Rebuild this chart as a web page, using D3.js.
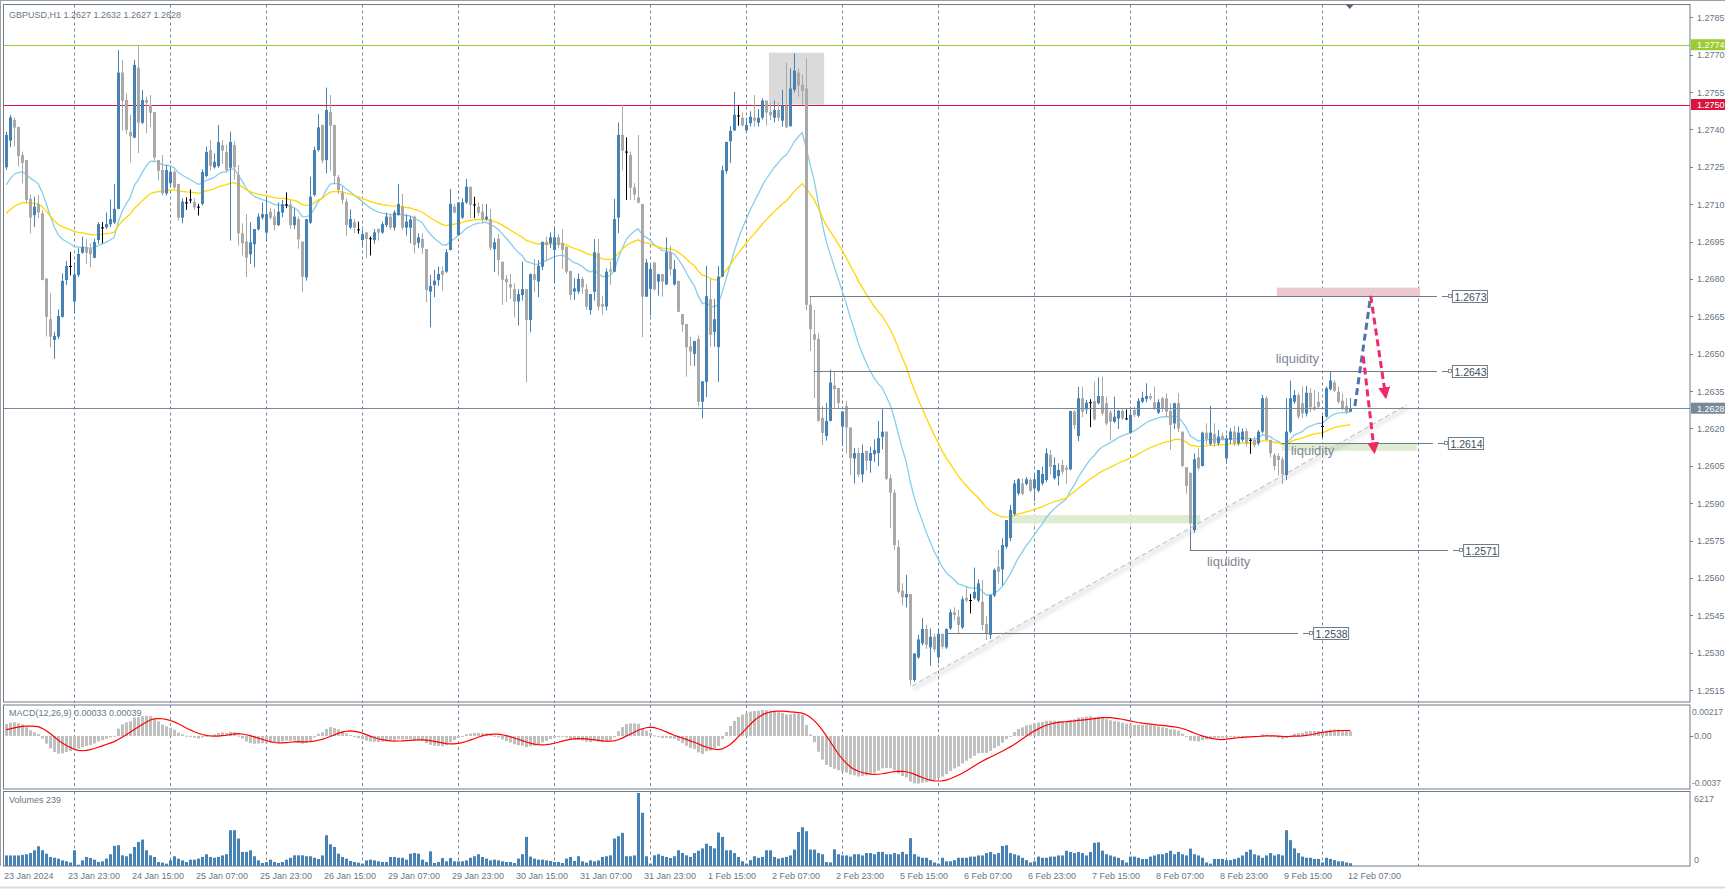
<!DOCTYPE html>
<html><head><meta charset="utf-8">
<script src="https://cdn.jsdelivr.net/npm/d3@7"></script>
<style>
body{margin:0;background:#fff;overflow:hidden}
svg{display:block}
text{font-family:"Liberation Sans",Arial,sans-serif}
</style></head>
<body><svg id="c" width="1725" height="889"></svg>
<script>
// ---------------- DATA (GBPUSD H1, bar 0 = 23 Jan 2024 07:00) ----------------
const opens = [1.27248,1.27355,1.27438,1.2741,1.27297,1.27277,1.27121,1.27056,1.27101,1.27063,
1.26802,1.26638,1.26555,1.26568,1.26648,1.26796,1.26852,1.26709,1.26816,1.26905,
1.26927,1.2692,1.26885,1.26956,1.27007,1.27007,1.27019,1.27026,1.27081,1.27628,
1.27518,1.2739,1.27367,1.27648,1.27427,1.27518,1.27498,1.2747,1.27277,1.27237,
1.27143,1.27184,1.2723,1.27181,1.27046,1.27107,1.27119,1.27109,1.2709,1.27101,
1.27213,1.27317,1.27248,1.27253,1.27337,1.27309,1.27246,1.27337,1.27217,1.26983,
1.2695,1.26899,1.26939,1.26999,1.27046,1.26986,1.2707,1.2705,1.27016,1.27066,
1.27099,1.27099,1.27016,1.2704,1.2695,1.26806,1.27026,1.27137,1.27317,1.27418,
1.27277,1.2747,1.27418,1.27208,1.27146,1.2711,1.27006,1.27027,1.26999,1.26956,
1.26987,1.26963,1.26956,1.27,1.26986,1.27016,1.2705,1.27006,1.27056,1.2709,
1.27006,1.27006,1.2705,1.26945,1.2696,1.2692,1.26749,1.26775,1.26795,1.26832,
1.26829,1.26916,1.2709,1.26976,1.27046,1.27107,1.2717,1.27099,1.2709,1.2707,
1.27039,1.2704,1.26919,1.2696,1.26869,1.268,1.26779,1.26759,1.26709,1.26735,
1.26759,1.26635,1.26819,1.26789,1.26849,1.26949,1.26943,1.26916,1.26967,1.26945,
1.26929,1.26832,1.26749,1.26749,1.268,1.26759,1.26675,1.26749,1.26903,1.26699,
1.26689,1.26838,1.26829,1.27046,1.27378,1.27311,1.27297,1.27167,1.27127,1.27101,
1.26729,1.2676,1.26866,1.26789,1.26819,1.26778,1.26907,1.26778,1.26792,1.26659,
1.26619,1.2653,1.26499,1.26559,1.26307,1.26387,1.26719,1.26587,1.26526,1.26809,
1.27233,1.27353,1.27396,1.27456,1.27447,1.27396,1.27425,1.27447,1.27427,1.27447,
1.27516,1.2747,1.27447,1.27478,1.27435,1.27494,1.27413,1.27559,1.27628,1.27579,
1.27564,1.26696,1.26578,1.26559,1.26242,1.2617,1.2623,1.26372,1.26362,1.26207,
1.2629,1.26204,1.26079,1.26101,1.26015,1.2611,1.2607,1.26096,1.26101,1.26166,
1.26187,1.26,1.25942,1.25724,1.25549,1.25522,1.25535,1.2519,1.25281,1.25337,
1.25395,1.25321,1.25364,1.25281,1.25375,1.25321,1.25397,1.25462,1.25444,1.25401,
1.2552,1.25511,1.25518,1.25509,1.25504,1.25415,1.25371,1.25529,1.25645,1.25634,
1.25725,1.2576,1.25856,1.25939,1.25979,1.25977,1.25993,1.25959,1.2595,1.25979,
1.25993,1.26093,1.26,1.26009,1.26053,1.26042,1.26036,1.26267,1.26169,1.26321,
1.26276,1.26305,1.2631,1.26301,1.2633,1.26301,1.26264,1.26227,1.2624,1.26271,
1.2624,1.26183,1.26274,1.26251,1.26307,1.26318,1.2633,1.26305,1.26263,1.26321,
1.26321,1.2627,1.2622,1.26301,1.26187,1.26044,1.26022,1.25792,1.26084,1.26049,
1.26183,1.26137,1.26177,1.2614,1.2617,1.2608,1.26154,1.26187,1.2614,1.26154,
1.26189,1.26154,1.26154,1.2614,1.26187,1.26321,1.26154,1.26093,1.26089,1.26076,
1.26013,1.26187,1.26307,1.26334,1.26301,1.2626,1.26343,1.26287,1.26307,1.2621,
1.26247,1.26357,1.26384,1.26347,1.26311,1.2629,1.26267];
const highs = [1.2739,1.27458,1.27448,1.2741,1.27311,1.27277,1.27139,1.2713,1.27137,1.27076,
1.26802,1.26742,1.26588,1.26678,1.26822,1.26872,1.26909,1.26862,1.26923,1.26969,
1.26959,1.26943,1.26961,1.27028,1.27028,1.27067,1.27119,1.27181,1.27719,1.27679,
1.27545,1.27458,1.27679,1.27739,1.27558,1.27531,1.27538,1.2747,1.27277,1.27297,
1.27257,1.2725,1.27237,1.27181,1.27123,1.27127,1.27159,1.27123,1.27101,1.2724,
1.27331,1.27357,1.27304,1.27418,1.27357,1.27337,1.27391,1.27351,1.27257,1.27023,
1.2706,1.27027,1.27,1.27063,1.27107,1.2713,1.27083,1.27081,1.27107,1.27117,
1.27147,1.27117,1.27083,1.2705,1.2695,1.2704,1.2721,1.27331,1.27461,1.27418,
1.27568,1.27538,1.27418,1.27217,1.2717,1.27123,1.27079,1.2704,1.2703,1.26996,
1.26987,1.2697,1.27,1.27003,1.2703,1.27066,1.27063,1.27076,1.27181,1.27141,
1.27059,1.27052,1.27054,1.26983,1.26983,1.2692,1.26816,1.26836,1.26849,1.26849,
1.2692,1.27161,1.27101,1.27107,1.27123,1.27201,1.2717,1.2713,1.27107,1.27101,
1.27101,1.27081,1.26963,1.2698,1.26869,1.26816,1.26819,1.26782,1.26759,1.26869,
1.26759,1.26822,1.2688,1.26876,1.26949,1.2697,1.26987,1.2701,1.2698,1.27,
1.26929,1.26832,1.26802,1.26822,1.26809,1.26779,1.26739,1.2696,1.2696,1.26733,
1.26842,1.26869,1.27121,1.27428,1.27498,1.27368,1.27311,1.27184,1.27378,1.27101,
1.2688,1.2686,1.26866,1.26819,1.26819,1.26967,1.26933,1.26876,1.26792,1.26659,
1.26619,1.26568,1.26551,1.26573,1.26389,1.26852,1.26801,1.26719,1.26851,1.27255,
1.2735,1.27413,1.2755,1.27495,1.27468,1.27447,1.27473,1.27538,1.27482,1.27525,
1.27516,1.27507,1.27516,1.27507,1.27559,1.27667,1.27645,1.27705,1.27645,1.27619,
1.27686,1.26731,1.26676,1.26581,1.2629,1.26302,1.26436,1.26427,1.26362,1.26268,
1.2631,1.26204,1.26122,1.26122,1.26135,1.2611,1.26127,1.26156,1.2623,1.26281,
1.26187,1.26015,1.25955,1.25753,1.25578,1.25612,1.25535,1.25297,1.25371,1.25438,
1.25411,1.25397,1.25377,1.25397,1.25377,1.25397,1.25474,1.25482,1.25471,1.25525,
1.25565,1.25535,1.25641,1.25594,1.25591,1.25447,1.25531,1.25638,1.25712,1.25759,
1.25832,1.25893,1.25993,1.26,1.26,1.26004,1.26,1.2602,1.26033,1.26046,
1.2612,1.26113,1.26084,1.2606,1.26073,1.26053,1.2627,1.26274,1.26367,1.26367,
1.26314,1.26317,1.26388,1.26405,1.26408,1.26327,1.26274,1.26327,1.26274,1.26276,
1.26276,1.26281,1.26287,1.26321,1.26347,1.26381,1.26341,1.26368,1.26317,1.26327,
1.26341,1.26301,1.26303,1.26341,1.26187,1.26044,1.26022,1.261,1.2612,1.26187,
1.2622,1.2629,1.2622,1.26193,1.26183,1.26174,1.262,1.2621,1.26207,1.262,
1.262,1.2616,1.26167,1.26193,1.26334,1.2633,1.26154,1.261,1.261,1.26086,
1.26321,1.26392,1.26354,1.26343,1.26368,1.2637,1.26361,1.26354,1.26347,1.2625,
1.26368,1.26428,1.26394,1.26368,1.26341,1.26321,1.26322];
const lows = [1.2724,1.27331,1.27333,1.27253,1.27186,1.27106,1.26985,1.2701,1.27046,1.26796,
1.26571,1.26528,1.26481,1.26561,1.26646,1.26778,1.26816,1.26664,1.26809,1.26903,
1.26862,1.26849,1.26885,1.26943,1.26945,1.27003,1.2701,1.27023,1.27081,1.27398,
1.27384,1.2727,1.27367,1.27307,1.27424,1.27387,1.27411,1.27277,1.27197,1.27137,
1.27137,1.2717,1.27163,1.27036,1.27026,1.27079,1.27106,1.27079,1.27056,1.27097,
1.2721,1.27237,1.27245,1.27248,1.27264,1.2723,1.26956,1.272,1.26936,1.26896,
1.26809,1.26862,1.26849,1.26996,1.2704,1.26953,1.2704,1.26996,1.27014,1.2705,
1.27086,1.27003,1.27003,1.26923,1.26749,1.26795,1.27023,1.27133,1.27313,1.27266,
1.27226,1.27237,1.27184,1.27143,1.27103,1.26976,1.27003,1.26986,1.26983,1.26929,
1.26885,1.26896,1.26943,1.26956,1.26983,1.2701,1.26999,1.26996,1.27056,1.26999,
1.26976,1.26945,1.26905,1.26925,1.26903,1.26709,1.26608,1.26729,1.26775,1.26755,
1.26826,1.26916,1.27066,1.26976,1.27043,1.27103,1.27047,1.27046,1.27056,1.27026,
1.27036,1.26916,1.26829,1.26816,1.26698,1.26709,1.26722,1.26648,1.26615,1.26715,
1.26387,1.26588,1.26749,1.26729,1.26838,1.26876,1.26925,1.26785,1.26925,1.26842,
1.26822,1.26718,1.26718,1.26742,1.26742,1.26678,1.26658,1.26715,1.26675,1.26659,
1.26675,1.26779,1.26829,1.26986,1.27237,1.27119,1.27119,1.27119,1.27106,1.26568,
1.26729,1.26655,1.26755,1.26735,1.26731,1.26778,1.26816,1.26775,1.26668,1.2659,
1.2641,1.26453,1.26453,1.2629,1.26242,1.26328,1.2653,1.2653,1.26389,1.26809,
1.27224,1.27267,1.27396,1.27417,1.27413,1.27392,1.27413,1.27413,1.27413,1.27442,
1.27418,1.27439,1.2743,1.27435,1.27413,1.27408,1.27413,1.2755,1.27533,1.27499,
1.26676,1.26513,1.26324,1.2623,1.26135,1.26153,1.2623,1.26281,1.26281,1.26132,
1.26101,1.26015,1.25981,1.26007,1.25985,1.26033,1.26024,1.26067,1.2605,1.26118,
1.25995,1.25801,1.25715,1.25539,1.25492,1.25484,1.2517,1.25184,1.25277,1.25331,
1.25317,1.2525,1.25304,1.25259,1.25317,1.25317,1.25393,1.25431,1.25377,1.25397,
1.25504,1.2546,1.25514,1.25504,1.25391,1.25353,1.25357,1.25525,1.25578,1.25571,
1.25719,1.25749,1.25852,1.25933,1.25933,1.25973,1.25946,1.2591,1.25946,1.25973,
1.25986,1.26017,1.25996,1.25973,1.26017,1.25979,1.26033,1.262,1.26151,1.26247,
1.2626,1.26207,1.26234,1.26298,1.26254,1.26214,1.26153,1.26223,1.262,1.26236,
1.26236,1.2618,1.26247,1.26247,1.26303,1.26307,1.26314,1.26276,1.2626,1.26267,
1.26247,1.26116,1.262,1.26187,1.26046,1.2594,1.25785,1.25783,1.26033,1.26049,
1.26137,1.26133,1.26129,1.26133,1.26154,1.2606,1.2614,1.26133,1.26133,1.26147,
1.26129,1.261,1.26126,1.26133,1.26183,1.26154,1.26086,1.26033,1.26013,1.25979,
1.25995,1.26183,1.26301,1.2624,1.26244,1.2625,1.26267,1.26274,1.26281,1.26167,
1.26244,1.26354,1.26347,1.26301,1.26274,1.2626,1.26268];
const closes = [1.27378,1.27448,1.27407,1.27293,1.27266,1.27117,1.27046,1.2709,1.27066,1.26796,
1.26648,1.26568,1.26571,1.26651,1.26792,1.26852,1.26852,1.26818,1.269,1.26927,
1.26905,1.26899,1.26948,1.2702,1.27007,1.2702,1.2704,1.27081,1.27628,1.27515,
1.27398,1.27373,1.27659,1.27427,1.27518,1.27507,1.27467,1.27287,1.27234,1.27143,
1.27237,1.2723,1.27167,1.27046,1.2711,1.27107,1.27119,1.27087,1.2709,1.27229,
1.27309,1.27253,1.2727,1.27349,1.27315,1.27237,1.2735,1.27248,1.26983,1.26943,
1.26885,1.26947,1.27,1.2705,1.2706,1.2706,1.27046,1.27016,1.2707,1.27099,
1.27099,1.27016,1.2705,1.26959,1.26809,1.2704,1.2713,1.27317,1.27408,1.27275,
1.27478,1.27415,1.27213,1.27157,1.27117,1.27016,1.2704,1.27006,1.26999,1.2698,
1.2696,1.26963,1.26987,1.26986,1.2702,1.2705,1.27006,1.27067,1.27101,1.27006,
1.2703,1.27039,1.26936,1.26967,1.26925,1.26755,1.26771,1.26793,1.2682,1.26816,
1.26907,1.27101,1.27066,1.27107,1.27107,1.2717,1.27097,1.27099,1.27066,1.27039,
1.2705,1.26925,1.26947,1.26876,1.26796,1.26786,1.26766,1.26709,1.26739,1.26759,
1.26635,1.26819,1.26796,1.26853,1.26949,1.26936,1.26967,1.26967,1.26936,1.26916,
1.26829,1.26735,1.26762,1.268,1.26766,1.26689,1.26739,1.26907,1.26689,1.26689,
1.26829,1.26829,1.2704,1.27378,1.27315,1.27311,1.27166,1.27139,1.27106,1.26729,
1.26866,1.2684,1.26758,1.26819,1.26789,1.26907,1.26838,1.2684,1.26668,1.26616,
1.26526,1.26508,1.26551,1.26307,1.26389,1.26731,1.26576,1.26638,1.26809,1.27236,
1.2735,1.27394,1.27459,1.27456,1.27417,1.27418,1.27451,1.27435,1.27447,1.27516,
1.27468,1.27456,1.27478,1.27447,1.27494,1.27408,1.27564,1.27636,1.27576,1.27555,
1.26696,1.26598,1.26556,1.2623,1.26182,1.2623,1.26384,1.26358,1.26302,1.26268,
1.26204,1.26081,1.26101,1.26015,1.26101,1.2607,1.26101,1.26113,1.26161,1.26187,
1.25998,1.25942,1.25732,1.25544,1.25522,1.25535,1.2519,1.25297,1.25353,1.25395,
1.25331,1.25364,1.25313,1.25375,1.25324,1.25395,1.25462,1.25451,1.25411,1.25514,
1.25509,1.25511,1.25544,1.25578,1.25411,1.25377,1.25531,1.25632,1.25625,1.25732,
1.25832,1.25873,1.25979,1.25996,1.25937,1.25996,1.2595,1.25996,1.26033,1.26017,
1.261,1.26046,1.26053,1.26033,1.26026,1.26033,1.2627,1.26214,1.26321,1.26267,
1.26303,1.26305,1.26236,1.2633,1.2626,1.2622,1.26227,1.26247,1.26271,1.2624,
1.2624,1.26254,1.26254,1.26311,1.26323,1.2633,1.26321,1.26281,1.26305,1.26281,
1.26267,1.26214,1.26301,1.262,1.26049,1.25969,1.25819,1.26076,1.2604,1.26183,
1.26156,1.26183,1.2614,1.26167,1.26156,1.2616,1.26187,1.2614,1.26183,1.26187,
1.2614,1.26154,1.26133,1.26187,1.26321,1.26154,1.261,1.26049,1.26073,1.26017,
1.26187,1.26321,1.26334,1.26247,1.2626,1.26343,1.26285,1.26276,1.26287,1.2621,
1.26361,1.26392,1.26351,1.26307,1.26281,1.26267,1.26281];
const volumes = [900,900,900,900,950,1000,1100,1340,1680,1340,
1050,770,700,630,480,400,300,1340,110,480,
770,680,540,340,400,630,1000,1710,1770,910,
830,1050,1620,2050,2250,1340,910,770,340,285,
200,480,830,630,480,340,540,540,630,770,
1000,770,700,770,900,1000,3050,3050,2340,1200,
1200,1340,830,480,260,340,540,340,260,340,
540,700,910,910,910,830,830,700,600,900,
2620,1850,1620,1050,770,630,430,340,285,200,
480,540,480,400,340,340,770,770,700,700,
540,1050,1110,1050,540,340,1250,260,340,680,
400,680,400,400,400,480,700,830,1000,770,
630,480,540,480,400,340,340,260,630,1000,
2480,800,630,540,540,480,430,340,340,260,
630,770,430,830,400,285,480,400,480,770,
830,910,2340,2540,2820,830,830,900,6217,4530,
830,200,910,1000,860,770,680,830,1340,1110,
910,770,1100,1300,1500,1900,1700,1500,2850,2480,
1340,1340,1100,770,400,200,500,830,700,770,
1340,1340,770,630,700,770,900,1400,2900,3300,
2960,1400,1400,1100,1000,340,300,1420,1000,900,
900,800,1000,1000,900,1100,1100,1000,1200,1200,
1000,1000,1100,1000,1200,1000,2370,1000,800,700,
700,500,300,200,700,400,400,500,700,700,
700,800,800,900,900,1100,1200,1000,1100,1700,
1770,1100,1000,900,700,500,300,400,800,700,
700,800,800,900,900,1300,1200,1100,1200,1100,
900,1200,1970,2020,1300,1000,900,800,700,500,
300,800,800,700,600,600,800,900,1000,1000,
1100,1300,1000,1200,1000,900,1480,1000,900,700,
300,200,600,600,600,500,500,600,700,900,
1200,1400,1000,900,700,900,1100,900,1000,900,
3050,2200,1500,1100,800,700,700,600,600,300,
700,600,500,400,400,300,239];

const timeLabels = ["23 Jan 2024","23 Jan 23:00","24 Jan 15:00","25 Jan 07:00","25 Jan 23:00","26 Jan 15:00","29 Jan 07:00","29 Jan 23:00","30 Jan 15:00","31 Jan 07:00","31 Jan 23:00","1 Feb 15:00","2 Feb 07:00","2 Feb 23:00","5 Feb 15:00","6 Feb 07:00","6 Feb 23:00","7 Feb 15:00","8 Feb 07:00","8 Feb 23:00","9 Feb 15:00","12 Feb 07:00"];
const timeLabelBars = [0,16,32,48,64,80,96,112,128,144,160,176,192,208,224,240,256,272,288,304,320,336];
const daySeparatorBars = [17,41,65,89,113,137,161,185,209,233,257,281,305,329,353];
const priceTicks = [1.2785,1.2770,1.2755,1.2740,1.2725,1.2710,1.2695,1.2680,1.2665,1.2650,1.2635,1.2620,1.2605,1.2590,1.2575,1.2560,1.2545,1.2530,1.2515];
const priceDomain = [1.2515, 1.2785];
const macdDomain = [-0.0037, 0.00217];
const volumeMax = 6217;

// indicator settings and start values read at the left edge of the chart
const maPeriods = [21, 50];
const maStart = [1.27157, 1.2705];
const macdPeriods = [12, 26, 9];
const macdStart = [1.2722, 1.2714, 0.0004];

// horizontal marked levels (price, from bar, to bar)
const hLines = [1.2774, 1.2750];
const levelPrices = [1.2673, 1.2643, 1.2614, 1.2571, 1.2538];
const levelFrom = [201, 202, 319, 296, 235];
const levelTo = [357.8, 357.8, 356.8, 360.6, 323.1];
// zones: [fromBar, toBar, lowPrice, highPrice]
const zoneFrom = [190.8, 317.8, 319, 251.3];
const zoneTo = [204.6, 353.6, 352.8, 298.6];
const zoneLow = [1.2750, 1.2673, 1.2611, 1.25819];
const zoneHigh = [1.27708, 1.26765, 1.2614, 1.25852];
// trend line
const trendBars = [226.6, 350.3];
const trendPrices = [1.25166, 1.26294];
// "liquidity" notes
const noteBars = [317.5, 321.3, 300.3];
const notePrices = [1.26461, 1.26093, 1.25648];
// projected path arrows: [fromBar, fromPrice, toBar, toPrice]
const blueArrow = [337.3, 1.2629, 341.25, 1.26732];
const redArrows = [[341.25, 1.26732, 345.0, 1.26327], [339.4, 1.26488, 342.15, 1.26106]];

// ---------------- DRAWING ----------------
const svg = d3.select("#c");
const C = {blue:"#4682b4", gray:"#a9a9a9", grid:"#77889a", border:"#6e7b8b", txt:"#6a7684"};
const L = {left:3.5, right:1690, mainTop:4.5, mainBot:702, macdTop:705, macdBot:789, volTop:791.5, volBot:866};

const x = d3.scaleLinear().domain([0, 336]).range([5.7, 1349.7]);
const y = d3.scaleLinear().domain(priceDomain).range([690, 17.3]);
const ym = d3.scaleLinear().domain(macdDomain).range([787, 706]);
const yv = d3.scaleLinear().domain([0, volumeMax]).range([866, 793]);

const defs = svg.append("defs");
[["cm", L.mainTop, L.mainBot], ["cd", L.macdTop, L.macdBot], ["cv", L.volTop, L.volBot]].forEach(([id, t, b]) => {
  defs.append("clipPath").attr("id", id).append("rect").attr("x", L.left).attr("y", t).attr("width", L.right - L.left).attr("height", b - t);
});
const blur = defs.append("filter").attr("id","sh").attr("x","-10%").attr("y","-10%").attr("width","120%").attr("height","140%");
blur.append("feGaussianBlur").attr("stdDeviation", 2);
defs.append("marker").attr("id","ar").attr("viewBox","0 0 10 10").attr("refX",8).attr("refY",5)
  .attr("markerWidth",4).attr("markerHeight",4).attr("orient","auto")
  .append("path").attr("d","M0,0 L10,5 L0,10 Z").attr("fill","#ee2a68");

svg.append("rect").attr("width",1725).attr("height",889).attr("fill","#fff");
svg.append("line").attr("x1",0).attr("x2",1725).attr("y1",0.5).attr("y2",0.5).attr("stroke","#a0a0a0");
svg.append("line").attr("x1",0).attr("x2",1725).attr("y1",887.5).attr("y2",887.5).attr("stroke","#dcdcdc").attr("stroke-width",2);

const gMain = svg.append("g").attr("clip-path","url(#cm)");
const gMacd = svg.append("g").attr("clip-path","url(#cd)");
const gVol = svg.append("g").attr("clip-path","url(#cv)");
const px = i => Math.round(x(i));

// day separators
[[gMain,L.mainTop,L.mainBot],[gMacd,L.macdTop,L.macdBot],[gVol,L.volTop,L.volBot]].forEach(([g,t,b])=>{
  g.selectAll(null).data(daySeparatorBars).join("line")
    .attr("x1",d=>px(d)+0.5).attr("x2",d=>px(d)+0.5).attr("y1",t).attr("y2",b)
    .attr("stroke",C.grid).attr("stroke-dasharray","3,3");
});

// zones
const zoneCols = ["#dadada","#ecc9ce","#deecd1","#deecd1"];
gMain.selectAll(null).data(zoneFrom).join("rect")
  .attr("x",(d,i)=>x(d)).attr("width",(d,i)=>x(zoneTo[i])-x(d))
  .attr("y",(d,i)=>y(zoneHigh[i])).attr("height",(d,i)=>Math.max(1,y(zoneLow[i])-y(zoneHigh[i])))
  .attr("fill",(d,i)=>zoneCols[i]);

// horizontal lines
const hCols = ["#9acd32","#dc143c"];
gMain.selectAll(null).data(hLines).join("line")
  .attr("x1",L.left).attr("x2",L.right).attr("y1",d=>Math.round(y(d))+0.5).attr("y2",d=>Math.round(y(d))+0.5)
  .attr("stroke",(d,i)=>hCols[i]);

// moving averages
function ema(vals, period, start){ const k = 2/(period+1); let e = start; return vals.map(v => (e = e + k*(v - e))); }
const maCols = ["#87ceeb","#ffd700"];
maPeriods.forEach((p, j) => {
  const vals = ema(closes, p, maStart[j]);
  gMain.append("path").datum(vals)
    .attr("d", d3.line().x((d,i)=>x(i)+0.5).y(d=>y(d)))
    .attr("fill","none").attr("stroke",maCols[j]).attr("stroke-width",1.3);
});

// candles
const idx = d3.range(closes.length);
const colOf = i => closes[i] > opens[i] ? C.blue : (closes[i] < opens[i] ? C.gray : "#000");
const cg = gMain.append("g");
cg.selectAll(null).data(idx).join("line")
  .attr("x1",i=>px(i)+0.5).attr("x2",i=>px(i)+0.5)
  .attr("y1",i=>y(highs[i])).attr("y2",i=>y(lows[i])+0.5)
  .attr("stroke",colOf);
cg.selectAll(null).data(idx).join("rect")
  .attr("x",i=>px(i)-1).attr("width",3)
  .attr("y",i=>y(Math.max(opens[i],closes[i])))
  .attr("height",i=>Math.max(1, y(Math.min(opens[i],closes[i])) - y(Math.max(opens[i],closes[i]))))
  .attr("fill",colOf);

// trend line with soft shadow
gMain.append("line").attr("x1",x(trendBars[0])+1).attr("y1",y(trendPrices[0])+3).attr("x2",x(trendBars[1])+1).attr("y2",y(trendPrices[1])+3)
  .attr("stroke","#000").attr("stroke-opacity",0.18).attr("stroke-width",2).attr("filter","url(#sh)");
gMain.append("line").attr("x1",x(trendBars[0])).attr("y1",y(trendPrices[0])).attr("x2",x(trendBars[1])).attr("y2",y(trendPrices[1]))
  .attr("stroke","#b8b8b8").attr("stroke-dasharray","5,3");

// level lines with price labels
levelPrices.forEach((p, i) => {
  const yy = Math.round(y(p)) + 0.5, x0 = x(levelFrom[i]), x1 = x(levelTo[i]);
  gMain.append("line").attr("x1",x0).attr("x2",x1).attr("y1",yy).attr("y2",yy).attr("stroke",C.border);
  gMain.append("line").attr("x1",x1+5).attr("x2",x1+12).attr("y1",yy).attr("y2",yy).attr("stroke",C.border);
  gMain.append("rect").attr("x",x1+11.5).attr("y",yy-2).attr("width",3).attr("height",3).attr("fill","#fff").attr("stroke",C.border).attr("stroke-width",0.8);
  gMain.append("rect").attr("x",x1+15.5).attr("y",yy-6).attr("width",35).attr("height",12).attr("fill","#fff").attr("stroke",C.border);
  gMain.append("text").attr("x",x1+17.5).attr("y",yy+4).attr("font-size","10.5px").attr("fill","#3f4d5c").text(p.toFixed(4));
});
// connector of the 1.2571 level to the swing low candle
gMain.append("line").attr("x1",px(levelFrom[3])+0.5).attr("x2",px(levelFrom[3])+0.5)
  .attr("y1",y(lows[levelFrom[3]])).attr("y2",y(levelPrices[3])).attr("stroke",C.border);

// notes
gMain.selectAll(null).data(noteBars).join("text")
  .attr("x",d=>x(d)).attr("y",(d,i)=>y(notePrices[i]))
  .attr("font-size","13px").attr("fill","#7f8793").text("liquidity");

// arrows
gMain.append("line").attr("x1",x(blueArrow[0])).attr("y1",y(blueArrow[1])).attr("x2",x(blueArrow[2])).attr("y2",y(blueArrow[3]))
  .attr("stroke","#4f74ad").attr("stroke-width",3).attr("stroke-dasharray","7,4");
redArrows.forEach(a => {
  gMain.append("line").attr("x1",x(a[0])).attr("y1",y(a[1])).attr("x2",x(a[2])).attr("y2",y(a[3]))
    .attr("stroke","#ee2a68").attr("stroke-width",3).attr("stroke-dasharray","7,4").attr("marker-end","url(#ar)");
});

// current bid line
const last = closes[closes.length-1];
gMain.append("line").attr("x1",L.left).attr("x2",L.right).attr("y1",Math.round(y(last))+0.5).attr("y2",Math.round(y(last))+0.5).attr("stroke","#778899");

// MACD
const e12 = ema(closes, macdPeriods[0], macdStart[0]);
const e26 = ema(closes, macdPeriods[1], macdStart[1]);
const macd = e12.map((v,i) => v - e26[i]);
const signal = macd.map((v,i) => { let s = 0; for (let j = i - macdPeriods[2] + 1; j <= i; j++) s += j >= 0 ? macd[j] : macdStart[2]; return s / macdPeriods[2]; });
gMacd.selectAll(null).data(idx).join("rect")
  .attr("x",i=>px(i)-1).attr("width",3)
  .attr("y",i=>Math.min(ym(0), ym(macd[i]))).attr("height",i=>Math.max(1, Math.abs(ym(macd[i]) - ym(0))))
  .attr("fill","#c0c0c0");
gMacd.append("path").datum(signal).attr("d", d3.line().x((d,i)=>x(i)+0.5).y(d=>ym(d)))
  .attr("fill","none").attr("stroke","#ff0000").attr("stroke-width",1.2);

// volumes
gVol.selectAll(null).data(idx).join("rect")
  .attr("x",i=>px(i)-1).attr("width",3)
  .attr("y",i=>yv(volumes[i])).attr("height",i=>yv(0)-yv(volumes[i]))
  .attr("fill",C.blue);

// panel borders
[[L.mainTop,L.mainBot],[L.macdTop,L.macdBot],[L.volTop,L.volBot]].forEach(([t,b])=>{
  svg.append("rect").attr("x",L.left).attr("y",t).attr("width",L.right-L.left).attr("height",b-t)
    .attr("fill","none").attr("stroke",C.border);
});
svg.append("line").attr("x1",0.5).attr("x2",0.5).attr("y1",0).attr("y2",L.volBot).attr("stroke","#a0a0a0");

// chart shift marker
svg.append("path").attr("d",`M${x(336)-4},4.5 L${x(336)+4},4.5 L${x(336)},9 Z`).attr("fill","#5a6470");

// price axis
const ax = svg.append("g");
ax.selectAll(null).data(priceTicks).join("line")
  .attr("x1",L.right).attr("x2",L.right+3).attr("y1",d=>Math.round(y(d))+0.5).attr("y2",d=>Math.round(y(d))+0.5).attr("stroke",C.border);
ax.selectAll(null).data(priceTicks).join("text")
  .attr("x",1697).attr("y",d=>y(d)+3.5).attr("font-size","9px").attr("fill",C.txt).text(d=>d.toFixed(4));
// highlighted price tags
const tagPrices = [hLines[0], hLines[1], last];
const tagCols = ["#9acd32","#dc143c","#778899"];
tagPrices.forEach((p,i)=>{
  const yy = y(p);
  ax.append("rect").attr("x",1691).attr("y",yy-5.5).attr("width",34).attr("height",11).attr("fill",tagCols[i]);
  ax.append("text").attr("x",1697).attr("y",yy+3.5).attr("font-size","9px").attr("fill","#fff").text(p.toFixed(4));
});
// macd axis
ax.append("text").attr("x",1692).attr("y",715).attr("font-size","8.6px").attr("fill",C.txt).text(macdDomain[1].toFixed(5));
ax.append("line").attr("x1",L.right).attr("x2",L.right+3).attr("y1",Math.round(ym(0))+0.5).attr("y2",Math.round(ym(0))+0.5).attr("stroke",C.border);
ax.append("text").attr("x",1694).attr("y",ym(0)+3.5).attr("font-size","9px").attr("fill",C.txt).text("0.00");
ax.append("text").attr("x",1692).attr("y",786).attr("font-size","8.6px").attr("fill",C.txt).text(macdDomain[0].toFixed(4));
// volume axis
ax.append("text").attr("x",1694).attr("y",801.5).attr("font-size","9px").attr("fill",C.txt).text(volumeMax);
ax.append("text").attr("x",1694).attr("y",862.5).attr("font-size","9px").attr("fill",C.txt).text("0");

// time axis
ax.selectAll(null).data(timeLabelBars).join("text")
  .attr("x",d=>x(d)-1.8).attr("y",879).attr("font-size","9px").attr("fill",C.txt).text((d,i)=>timeLabels[i]);

// titles
const fmt = v => v.toFixed(4);
const n = closes.length - 1;
svg.append("text").attr("x",9).attr("y",18).attr("font-size","9px").attr("fill",C.txt)
  .text(`GBPUSD,H1  ${fmt(opens[n])} ${fmt(highs[n])} ${fmt(lows[n])} ${fmt(closes[n])}`);
svg.append("text").attr("x",9).attr("y",716).attr("font-size","9px").attr("fill",C.txt)
  .text(`MACD(12,26,9) ${macd[n].toFixed(5)} ${signal[n].toFixed(5)}`);
svg.append("text").attr("x",9).attr("y",803).attr("font-size","9px").attr("fill",C.txt)
  .text(`Volumes ${volumes[n]}`);
</script>
</body></html>
